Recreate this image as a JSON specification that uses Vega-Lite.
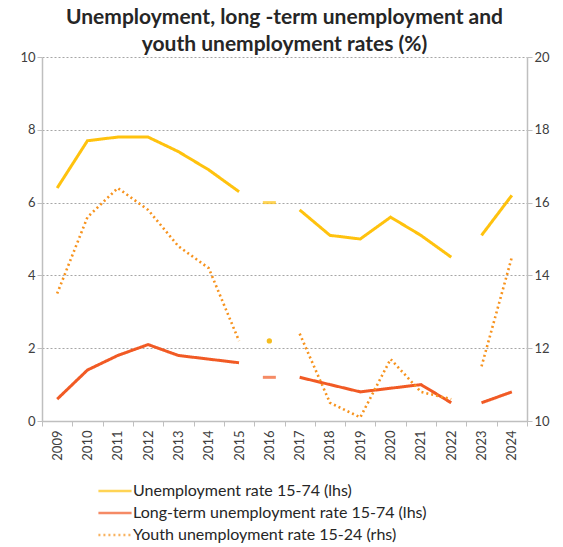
{
  "$schema": "https://vega.github.io/schema/vega-lite/v6.json",
  "autosize": "none",
  "width": 485,
  "height": 364,
  "padding": {"left": 42, "top": 57, "right": 36, "bottom": 126},
  "background": "white",
  "config": {
    "font": "Lato",
    "view": {"stroke": null},
    "axis": {"labelFont": "Lato", "labelFontSize": 13, "labelColor": "#404040", "domainColor": "#bfbfbf", "tickColor": "#bfbfbf", "domainWidth": 1.5, "tickSize": 5, "title": null}
  },
  "title": {
    "text": ["Unemployment, long -term unemployment and", "youth unemployment rates (%)"],
    "fontSize": 21,
    "fontWeight": "bold",
    "color": "#262626",
    "font": "Lato",
    "anchor": "middle",
    "lineHeight": 27,
    "offset": -4
  },
  "datasets": {
    "rates": [
      {"year": "2009", "series": "Unemployment rate 15-74 (lhs)", "value": 6.4, "seg": "a"},
      {"year": "2010", "series": "Unemployment rate 15-74 (lhs)", "value": 7.7, "seg": "a"},
      {"year": "2011", "series": "Unemployment rate 15-74 (lhs)", "value": 7.8, "seg": "a"},
      {"year": "2012", "series": "Unemployment rate 15-74 (lhs)", "value": 7.8, "seg": "a"},
      {"year": "2013", "series": "Unemployment rate 15-74 (lhs)", "value": 7.4, "seg": "a"},
      {"year": "2014", "series": "Unemployment rate 15-74 (lhs)", "value": 6.9, "seg": "a"},
      {"year": "2015", "series": "Unemployment rate 15-74 (lhs)", "value": 6.3, "seg": "a"},
      {"year": "2016", "series": "Unemployment rate 15-74 (lhs)", "value": 6.0, "seg": "b"},
      {"year": "2017", "series": "Unemployment rate 15-74 (lhs)", "value": 5.8, "seg": "c"},
      {"year": "2018", "series": "Unemployment rate 15-74 (lhs)", "value": 5.1, "seg": "c"},
      {"year": "2019", "series": "Unemployment rate 15-74 (lhs)", "value": 5.0, "seg": "c"},
      {"year": "2020", "series": "Unemployment rate 15-74 (lhs)", "value": 5.6, "seg": "c"},
      {"year": "2021", "series": "Unemployment rate 15-74 (lhs)", "value": 5.1, "seg": "c"},
      {"year": "2022", "series": "Unemployment rate 15-74 (lhs)", "value": 4.5, "seg": "c"},
      {"year": "2023", "series": "Unemployment rate 15-74 (lhs)", "value": 5.1, "seg": "d"},
      {"year": "2024", "series": "Unemployment rate 15-74 (lhs)", "value": 6.2, "seg": "d"},
      {"year": "2009", "series": "Long-term unemployment rate 15-74 (lhs)", "value": 0.6, "seg": "a"},
      {"year": "2010", "series": "Long-term unemployment rate 15-74 (lhs)", "value": 1.4, "seg": "a"},
      {"year": "2011", "series": "Long-term unemployment rate 15-74 (lhs)", "value": 1.8, "seg": "a"},
      {"year": "2012", "series": "Long-term unemployment rate 15-74 (lhs)", "value": 2.1, "seg": "a"},
      {"year": "2013", "series": "Long-term unemployment rate 15-74 (lhs)", "value": 1.8, "seg": "a"},
      {"year": "2014", "series": "Long-term unemployment rate 15-74 (lhs)", "value": 1.7, "seg": "a"},
      {"year": "2015", "series": "Long-term unemployment rate 15-74 (lhs)", "value": 1.6, "seg": "a"},
      {"year": "2016", "series": "Long-term unemployment rate 15-74 (lhs)", "value": 1.2, "seg": "b"},
      {"year": "2017", "series": "Long-term unemployment rate 15-74 (lhs)", "value": 1.2, "seg": "c"},
      {"year": "2018", "series": "Long-term unemployment rate 15-74 (lhs)", "value": 1.0, "seg": "c"},
      {"year": "2019", "series": "Long-term unemployment rate 15-74 (lhs)", "value": 0.8, "seg": "c"},
      {"year": "2020", "series": "Long-term unemployment rate 15-74 (lhs)", "value": 0.9, "seg": "c"},
      {"year": "2021", "series": "Long-term unemployment rate 15-74 (lhs)", "value": 1.0, "seg": "c"},
      {"year": "2022", "series": "Long-term unemployment rate 15-74 (lhs)", "value": 0.5, "seg": "c"},
      {"year": "2023", "series": "Long-term unemployment rate 15-74 (lhs)", "value": 0.5, "seg": "d"},
      {"year": "2024", "series": "Long-term unemployment rate 15-74 (lhs)", "value": 0.8, "seg": "d"},
      {"year": "2009", "series": "Youth unemployment rate 15-24 (rhs)", "value": 13.5, "seg": "a"},
      {"year": "2010", "series": "Youth unemployment rate 15-24 (rhs)", "value": 15.6, "seg": "a"},
      {"year": "2011", "series": "Youth unemployment rate 15-24 (rhs)", "value": 16.4, "seg": "a"},
      {"year": "2012", "series": "Youth unemployment rate 15-24 (rhs)", "value": 15.8, "seg": "a"},
      {"year": "2013", "series": "Youth unemployment rate 15-24 (rhs)", "value": 14.8, "seg": "a"},
      {"year": "2014", "series": "Youth unemployment rate 15-24 (rhs)", "value": 14.2, "seg": "a"},
      {"year": "2015", "series": "Youth unemployment rate 15-24 (rhs)", "value": 12.2, "seg": "a"},
      {"year": "2016", "series": "Youth unemployment rate 15-24 (rhs)", "value": 12.2, "seg": "b"},
      {"year": "2017", "series": "Youth unemployment rate 15-24 (rhs)", "value": 12.4, "seg": "c"},
      {"year": "2018", "series": "Youth unemployment rate 15-24 (rhs)", "value": 10.5, "seg": "c"},
      {"year": "2019", "series": "Youth unemployment rate 15-24 (rhs)", "value": 10.1, "seg": "c"},
      {"year": "2020", "series": "Youth unemployment rate 15-24 (rhs)", "value": 11.7, "seg": "c"},
      {"year": "2021", "series": "Youth unemployment rate 15-24 (rhs)", "value": 10.8, "seg": "c"},
      {"year": "2022", "series": "Youth unemployment rate 15-24 (rhs)", "value": 10.6, "seg": "c"},
      {"year": "2023", "series": "Youth unemployment rate 15-24 (rhs)", "value": 11.5, "seg": "d"},
      {"year": "2024", "series": "Youth unemployment rate 15-24 (rhs)", "value": 14.5, "seg": "d"}
    ]
  },
  "data": {"name": "rates"},
  "encoding": {
    "x": {
      "field": "year", "type": "ordinal", "bandPosition": 0.5,
      "scale": {"type": "band", "paddingInner": 0, "paddingOuter": 0},
      "axis": {"labelAngle": -90, "tickBand": "extent", "grid": false, "labelPadding": 4}
    }
  },
  "layer": [
    {
      "transform": [{"filter": "datum.series != 'Youth unemployment rate 15-24 (rhs)'"}],
      "layer": [
        {
          "transform": [{"filter": "datum.seg != 'b'"}],
          "mark": {"type": "line", "strokeWidth": 3, "strokeCap": "butt"},
          "encoding": {
            "y": {"field": "value", "type": "quantitative", "scale": {"domain": [0, 10]},
              "axis": {"orient": "left", "values": [0, 2, 4, 6, 8, 10], "grid": true, "gridDash": [2, 2], "gridColor": "#a6a6a6", "gridWidth": 1}},
            "detail": {"field": "seg"},
            "color": {"field": "series", "type": "nominal",
              "scale": {"domain": ["Unemployment rate 15-74 (lhs)", "Long-term unemployment rate 15-74 (lhs)", "Youth unemployment rate 15-24 (rhs)"], "range": ["#FFC20E", "#F15A24", "#F7931E"]},
              "legend": {"title": null, "orient": "none", "legendX": 55, "legendY": 423, "direction": "vertical", "symbolType": "stroke", "symbolSize": 1100, "symbolStrokeWidth": 2.5, "labelFont": "Lato", "labelFontSize": 16, "labelColor": "#262626", "rowPadding": 0, "clipHeight": 22, "labelOffset": 0, "labelLimit": 0}},
            "strokeDash": {"field": "series", "type": "nominal",
              "scale": {"domain": ["Unemployment rate 15-74 (lhs)", "Long-term unemployment rate 15-74 (lhs)", "Youth unemployment rate 15-24 (rhs)"], "range": [[1, 0], [1, 0], [2, 3]]},
              "legend": {"title": null, "orient": "none", "legendX": 55, "legendY": 423, "direction": "vertical", "symbolType": "stroke", "symbolSize": 1100, "symbolStrokeWidth": 2.5, "labelFont": "Lato", "labelFontSize": 16, "labelColor": "#262626", "rowPadding": 0, "clipHeight": 22, "labelOffset": 0, "labelLimit": 0}}
          }
        },
        {
          "transform": [{"filter": "datum.seg == 'b'"}],
          "mark": {"type": "tick", "size": 13, "thickness": 3},
          "encoding": {
            "y": {"field": "value", "type": "quantitative", "scale": {"domain": [0, 10]}},
            "color": {"field": "series", "type": "nominal"}
          }
        }
      ]
    },
    {
      "transform": [{"filter": "datum.series == 'Youth unemployment rate 15-24 (rhs)'"}],
      "layer": [
        {
          "transform": [{"filter": "datum.seg != 'b'"}],
          "mark": {"type": "line", "strokeWidth": 2.6, "strokeCap": "butt"},
          "encoding": {
            "y": {"field": "value", "type": "quantitative", "scale": {"domain": [10, 20]},
              "axis": {"orient": "right", "values": [10, 12, 14, 16, 18, 20], "grid": false}},
            "detail": {"field": "seg"},
            "color": {"field": "series", "type": "nominal"},
            "strokeDash": {"field": "series", "type": "nominal"}
          }
        },
        {
          "transform": [{"filter": "datum.seg == 'b'"}],
          "mark": {"type": "circle", "size": 28, "color": "#F5BD1F", "opacity": 1},
          "encoding": {
            "y": {"field": "value", "type": "quantitative", "scale": {"domain": [10, 20]}}
          }
        }
      ]
    }
  ],
  "resolve": {"scale": {"y": "independent"}}
}
